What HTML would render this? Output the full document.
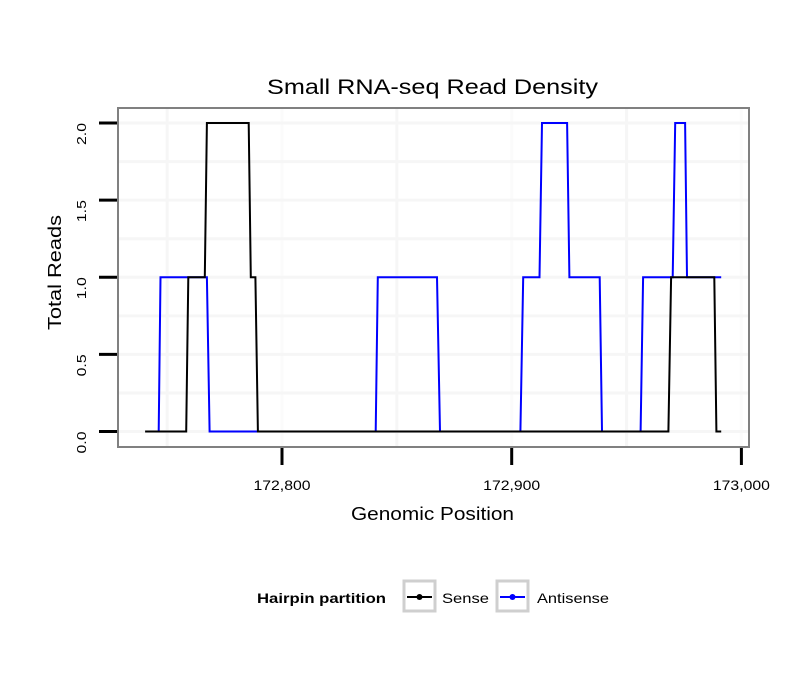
<!DOCTYPE html>
<html><head><meta charset="utf-8"><style>
html,body{margin:0;padding:0;background:#fff;}
svg{display:block;font-family:"Liberation Sans",Arial,sans-serif;}
</style></head><body>
<svg id="chart" width="810" height="690" viewBox="0 0 810 690">
<rect x="0" y="0" width="810" height="690" fill="#fff"/>
<text x="267" y="94" font-size="21" textLength="331" lengthAdjust="spacingAndGlyphs" fill="#000">Small RNA-seq Read Density</text>
<g id="grid"></g>
<g id="series"></g>
<rect x="118" y="108" width="631" height="339" fill="none" stroke="#808080" stroke-width="2"/>
<g id="yaxis"></g>
<g id="xaxis"></g>
<text transform="translate(61,330) rotate(-90)" font-size="18" textLength="115" lengthAdjust="spacingAndGlyphs" fill="#000">Total Reads</text>
<text x="351" y="520" font-size="18" textLength="163" lengthAdjust="spacingAndGlyphs" fill="#000">Genomic Position</text>
<g>
<text x="257" y="603" font-size="14" font-weight="bold" textLength="129" lengthAdjust="spacingAndGlyphs" fill="#000">Hairpin partition</text>
<g>
<rect x="404" y="581" width="31" height="30" fill="#fff" stroke="#cfcfcf" stroke-width="3"/>
<line x1="407" y1="597" x2="432" y2="597" stroke="#000" stroke-width="2"/>
<circle cx="419.5" cy="597" r="3" fill="#000"/>
<text x="442" y="603" font-size="14" textLength="47" lengthAdjust="spacingAndGlyphs" fill="#000">Sense</text>
</g>
<g>
<rect x="497" y="581" width="31" height="30" fill="#fff" stroke="#cfcfcf" stroke-width="3"/>
<line x1="500" y1="597" x2="525" y2="597" stroke="#0000ff" stroke-width="2"/>
<circle cx="512.5" cy="597" r="3" fill="#0000ff"/>
<text x="537" y="603" font-size="14" textLength="72" lengthAdjust="spacingAndGlyphs" fill="#000">Antisense</text>
</g>
</g>
</svg>
<script>
const senseX = [172740.4,172758.3,172759.2,172766.4,172767.3,172785.5,172786.4,172788.4,172789.5,172968.2,172969.4,172988.2,172989.1,172991.2];
const senseY = [0,0,1,1,2,2,1,1,0,0,1,1,0,0];
const antiX = [172746.3,172747.1,172767.3,172768.5,172840.8,172841.7,172867.5,172868.8,172903.8,172905.0,172912.1,172913.2,172924.1,172925.1,172938.3,172939.3,172956.1,172957.2,172970.1,172971.2,172975.5,172976.3,172991.2];
const antiY = [0,1,1,0,0,1,1,0,0,1,1,2,2,1,1,0,0,1,1,2,2,1,1];
const xTicks = [172800,172900,173000];
const xTickLabels = ["172,800","172,900","173,000"];
const yTicks = [0,0.5,1,1.5,2];
const yTickLabels = ["0.0","0.5","1.0","1.5","2.0"];
const xMinor = [172750,172850,172950];
const yMinor = [0.25,0.75,1.25,1.75];

const NS="http://www.w3.org/2000/svg";
function sx(v){return 282 + (v-172800)*2.297;}
function sy(v){return 431.5 - v*154.25;}
function mk(tag,attrs,parent){const e=document.createElementNS(NS,tag);for(const k in attrs)e.setAttribute(k,attrs[k]);parent.appendChild(e);return e;}

const grid=document.getElementById('grid');
xMinor.forEach(v=>{
  const l=mk('line',{x1:sx(v),x2:sx(v),y1:109,y2:446,stroke:'#f6f6f6','stroke-width':3},grid);
  
  
});
xTicks.forEach(v=>{
  const l=mk('line',{x1:sx(v),x2:sx(v),y1:109,y2:446,stroke:'#fbfbfb','stroke-width':3},grid);
  
  
});
yMinor.concat(yTicks).forEach(v=>{
  const l=mk('line',{x1:119,x2:748,y1:sy(v),y2:sy(v),stroke:'#f6f6f6','stroke-width':3},grid);
  
  
});

const ser=document.getElementById('series');
function line(xs,ys,color,name){
  const d=xs.map((x,i)=>(i?'L':'M')+sx(x).toFixed(1)+' '+sy(ys[i]).toFixed(1)).join(' ');
  const p=mk('path',{d:d,fill:'none',stroke:color,'stroke-width':2,'stroke-linejoin':'miter'},ser);
  
  
}
line(antiX,antiY,'#0000ff','antisense-line');
line(senseX,senseY,'#000','sense-line');

const ya=document.getElementById('yaxis');
yTicks.forEach((v,i)=>{
  const t=mk('line',{x1:99,x2:117,y1:sy(v),y2:sy(v),stroke:'#000','stroke-width':3},ya);
  
  
  const tx=mk('text',{transform:`translate(86,${sy(v)}) rotate(-90)`,'font-size':13,'text-anchor':'end',textLength:22,lengthAdjust:'spacingAndGlyphs',fill:'#000'},ya);
  tx.textContent=yTickLabels[i];
  
  
});
const xa=document.getElementById('xaxis');
xTicks.forEach((v,i)=>{
  const t=mk('line',{x1:sx(v),x2:sx(v),y1:448,y2:465,stroke:'#000','stroke-width':3},xa);
  
  
  const tx=mk('text',{x:sx(v)-28.5,y:490,'font-size':14,textLength:57,lengthAdjust:'spacingAndGlyphs',fill:'#000'},xa);
  tx.textContent=xTickLabels[i];
  
  
});
</script>
</body></html>
